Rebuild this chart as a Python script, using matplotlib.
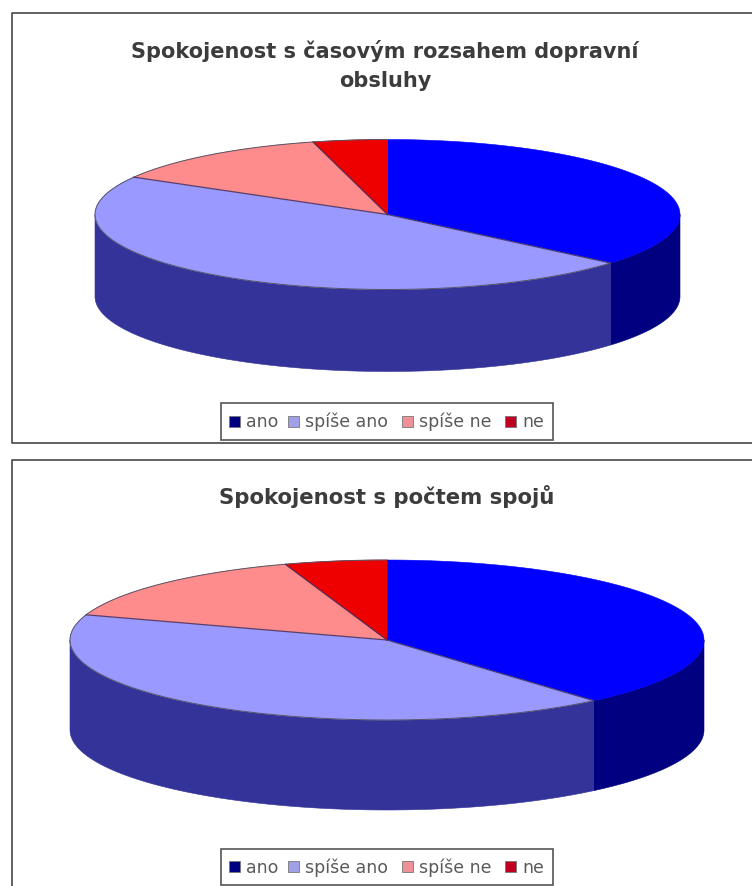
import numpy as np
import matplotlib.pyplot as plt
from matplotlib.patches import Polygon, Rectangle

labels = ["ano", "spíše ano", "spíše ne", "ne"]
title_top = "Spokojenost s časovým rozsahem dopravní\nobsluhy"
title_bottom = "Spokojenost s počtem spojů"
values_top = [36.2, 47.1, 12.6, 4.1]
values_bottom = [38.7, 41.4, 14.7, 5.2]

top_colors = ["#0000ff", "#9999ff", "#ff8c8c", "#ee0000"]
side_colors = ["#000080", "#333399", "#993333", "#800000"]
legend_colors = ["#000080", "#a0a0e8", "#f09098", "#c00020"]
text_color = "#3c3c3c"

plt.rcParams["font.family"] = ["DejaVu Sans"]


def ellipse_points(t0, t1, cx, cy, rx, ry, n=120):
    # angles run clockwise from twelve o'clock
    t = np.radians(np.linspace(t0, t1, n))
    return np.column_stack((cx + rx * np.sin(t), cy - ry * np.cos(t)))


def draw_pie(ax, values, cx, cy, rx, ry, depth):
    angles = np.concatenate(([0], np.cumsum(values))) * 360.0 / sum(values)

    # walls first, only the front half of the rim shows
    for i in range(len(values)):
        t0 = max(angles[i], 90)
        t1 = min(angles[i + 1], 270)
        if t1 <= t0:
            continue
        rim = ellipse_points(t0, t1, cx, cy, rx, ry)
        lower = rim[::-1] + [0, depth]
        ax.add_patch(Polygon(np.vstack((rim, lower)), closed=True,
                             facecolor=side_colors[i], edgecolor=side_colors[i], lw=0.4))

    for i in range(len(values)):
        arc = ellipse_points(angles[i], angles[i + 1], cx, cy, rx, ry)
        pts = np.vstack(([cx, cy], arc))
        ax.add_patch(Polygon(pts, closed=True, facecolor=top_colors[i],
                             edgecolor=top_colors[i], lw=0.4))

    # dark outline on the back rim, thin lines between slices
    back = ellipse_points(angles[1], 360, cx, cy, rx, ry)
    ax.plot(back[:, 0], back[:, 1], color="#555566", lw=0.7)
    for a in angles[1:-1]:
        p = ellipse_points(a, a, cx, cy, rx, ry, n=1)[0]
        ax.plot([cx, p[0]], [cy, p[1]], color="#40305f", lw=0.9, alpha=0.85)


def draw_legend(ax, x, y, w, h):
    ax.add_patch(Rectangle((x, y), w, h, facecolor="white", edgecolor="#555555", lw=1.2))
    swatch_x = [x + 8, x + 67, x + 181, x + 284]
    for sx, label, color in zip(swatch_x, labels, legend_colors):
        ax.add_patch(Rectangle((sx, y + 12.5), 11, 11, facecolor=color, edgecolor="#777777", lw=0.6))
        ax.text(sx + 17, y + 18, label, fontsize=12.5, color="#5a5a5a",
                ha="left", va="center")


fig = plt.figure(figsize=(7.52, 8.87), dpi=100)
ax = fig.add_axes([0, 0, 1, 1])
ax.set_xlim(0, 752)
ax.set_ylim(887, 0)
ax.axis("off")

# chart frames
ax.plot([752, 11.5, 11.5, 752], [13.5, 13.5, 443.5, 443.5], color="#555555", lw=1.3)
ax.plot([752, 11.5, 11.5], [460.5, 460.5, 887], color="#555555", lw=1.3)

ax.text(385, 65.5, title_top, fontsize=15, fontweight="bold", color=text_color,
        ha="center", va="center", linespacing=1.55)
ax.text(387, 497, title_bottom, fontsize=15.3, fontweight="bold", color=text_color,
        ha="center", va="center")

draw_pie(ax, values_top, 387.5, 215.5, 292.5, 75, 82)
draw_pie(ax, values_bottom, 387, 641, 317, 80, 90)

draw_legend(ax, 221, 404, 332, 37)
draw_legend(ax, 221, 850, 332, 36)

fig.savefig("out.png", dpi=100)
